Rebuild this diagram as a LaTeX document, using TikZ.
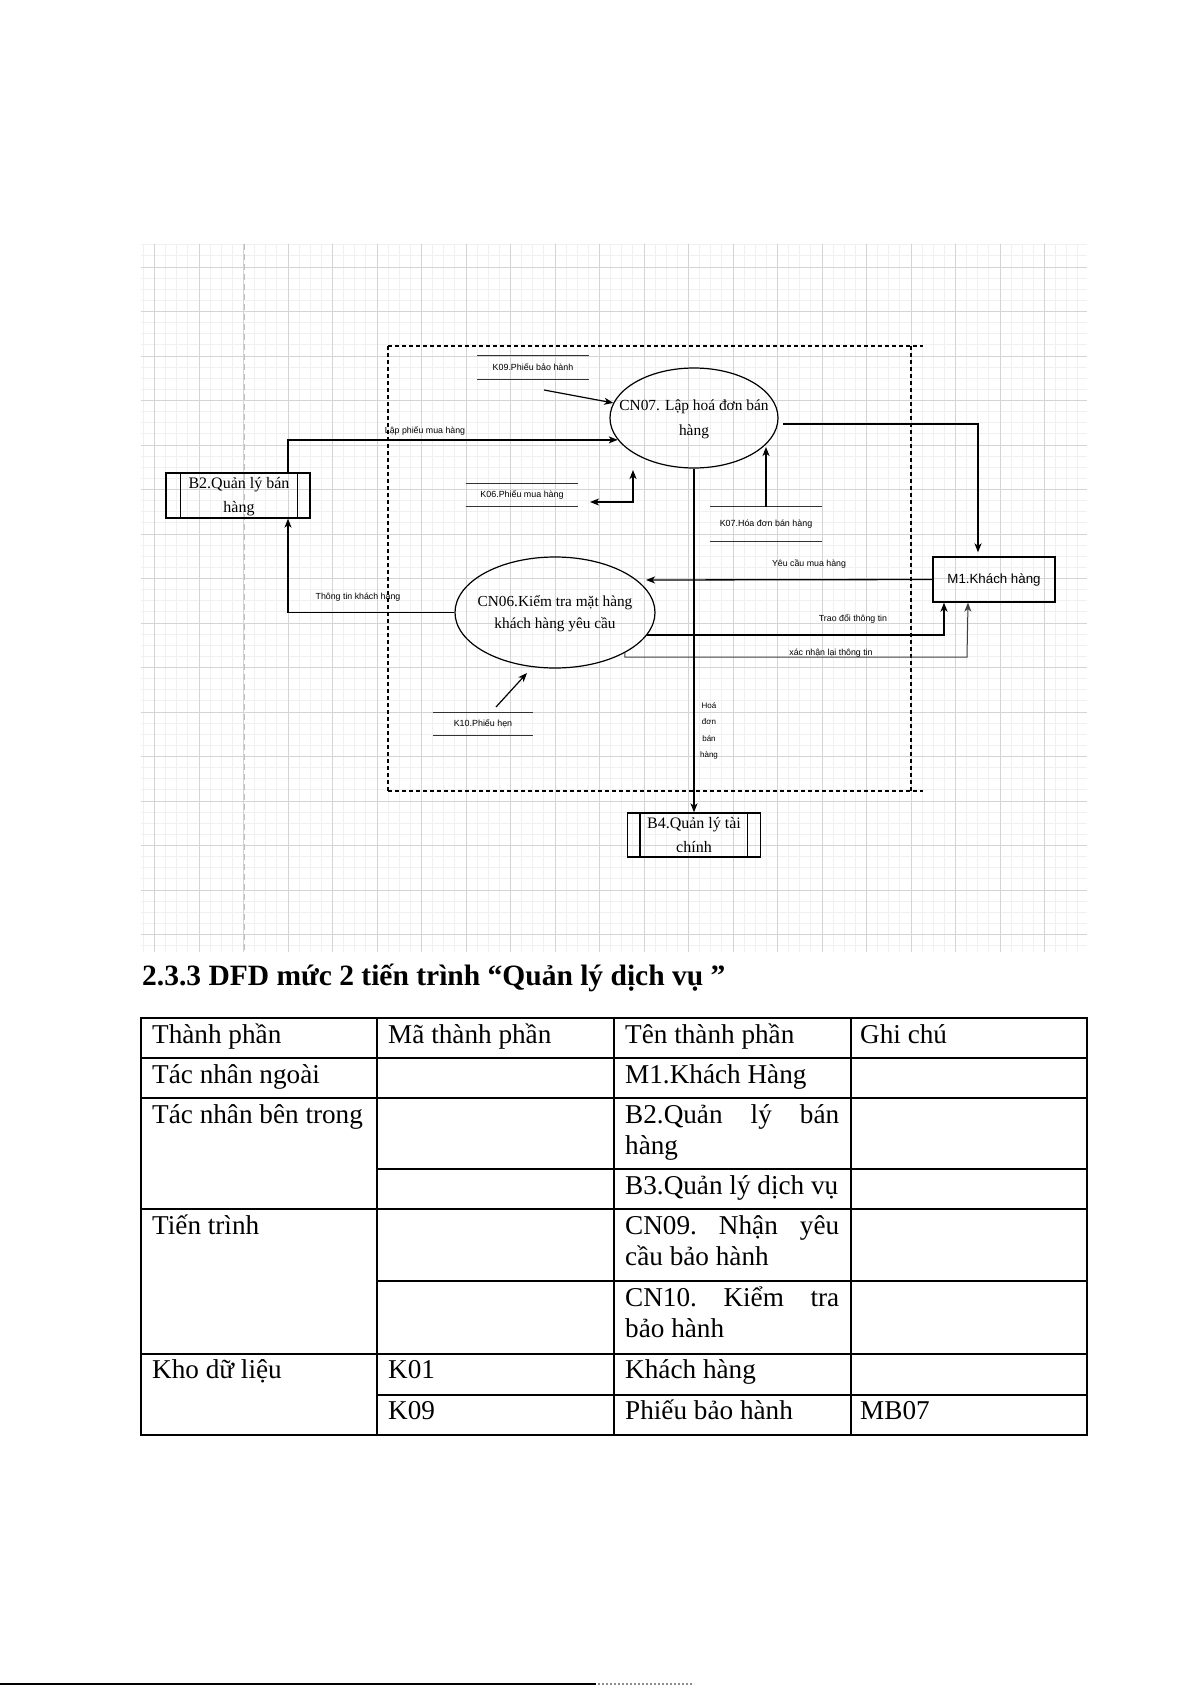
\documentclass[tikz,border=0pt]{standalone}
\usepackage{fontspec}
\setmainfont{Liberation Serif}
\newfontfamily\arialf{Liberation Sans}
\usetikzlibrary{arrows.meta,shapes.geometric,calc}
\begin{document}
\begin{tikzpicture}[x=1pt,y=-1pt,
  tip/.tip={Stealth[length=9pt,width=7pt,inset=2.5pt]},
  arr/.style={-tip, line width=1.3pt},
  darr/.style={tip-tip, line width=1.3pt},
  lbl/.style={font=\arialf\fontsize{8.8}{10}\selectfont, inner sep=0},
  sertext/.style={font=\fontsize{15.4}{25}\selectfont, align=center, inner sep=0},
  proc/.style={ellipse, draw, line width=1.2pt, inner sep=0},
  ext/.style={rectangle, draw, line width=1.3pt, inner sep=0},
  storetxt/.style={font=\arialf\fontsize{8.9}{10}\selectfont, inner sep=0},
  storeline/.style={draw=black!80, line width=1.2pt},
  gridminor/.style={draw=black!6, line width=0.8pt},
  gridmajor/.style={draw=black!17, line width=0.9pt},
  bound/.style={line width=1.5pt, dash pattern=on 4pt off 3pt},
  tab/.style={line width=1.2pt},
  tt/.style={font=\fontsize{27.2}{31}\selectfont, anchor=base west, inner sep=0},
]
\useasboundingbox (0,0) rectangle (1191,1685);
\fill[white] (0,0) rectangle (1191,1685);

% grid
\foreach \i in {-5,...,79}{\pgfmathsetmacro\xx{199+\i*11.125}\draw[gridminor] (\xx,244) -- (\xx,952);}
\foreach \j in {-2,...,61}{\pgfmathsetmacro\yy{267+\j*11.125}\draw[gridminor] (141,\yy) -- (1087,\yy);}
\foreach \i in {-1,...,19}{\pgfmathsetmacro\xx{199+\i*44.5}\draw[gridmajor] (\xx,244) -- (\xx,952);}
\foreach \j in {0,...,15}{\pgfmathsetmacro\yy{267+\j*44.5}\draw[gridmajor] (141,\yy) -- (1087,\yy);}
\draw[black!25, line width=1pt, dash pattern=on 6pt off 4pt] (244,244) -- (244,952);

% boundary
\draw[bound] (388,346) -- (923,346);
\draw[bound] (388,791) -- (923,791);
\draw[bound] (388,346) -- (388,791);
\draw[bound] (911,346) -- (911,791);

% external / internal agents
\node[ext, minimum width=144pt, minimum height=45pt] (b2) at (238,495.5) {};
\draw[line width=1.3pt] ([xshift=15pt]b2.north west) -- ([xshift=15pt]b2.south west)
  ([xshift=-13pt]b2.north east) -- ([xshift=-13pt]b2.south east);
\node[sertext, font=\fontsize{16}{24}\selectfont] (b2t) at (239,497) {B2.Quản lý bán\\hàng};

\node[ext, minimum width=133pt, minimum height=44pt] (b4) at (694,835) {};
\draw[line width=1.3pt] ([xshift=13pt]b4.north west) -- ([xshift=13pt]b4.south west)
  ([xshift=-14pt]b4.north east) -- ([xshift=-14pt]b4.south east);
\node[sertext, font=\fontsize{16}{24}\selectfont] (b4t) at (694,835.5) {B4.Quản lý tài\\chính};

\node[ext, minimum width=122pt, minimum height=45pt, font=\arialf\fontsize{13.3}{16}\selectfont] (m1) at (994,579.5) {M1.Khách hàng};

% processes
\node[proc, minimum width=168pt, minimum height=100pt] (cn07) at (694,418) {};
\node[sertext] (cn07t) at (694,419) {CN07. Lập hoá đơn bán\\hàng};
\node[proc, minimum width=200pt, minimum height=111pt] (cn06) at (555,612.5) {};
\node[sertext, font=\fontsize{15.3}{22}\selectfont] (cn06t) at (555,614) {CN06.Kiểm tra mặt hàng\\khách hàng yêu cầu};

% data stores
\node[storetxt, minimum width=112pt, minimum height=23pt] (k09) at (533,367.5) {K09.Phiếu bảo hành};
\draw[storeline] (k09.north west) -- (k09.north east) (k09.south west) -- (k09.south east);
\node[storetxt, minimum width=112pt, minimum height=22pt] (k06) at (522,495) {K06.Phiếu mua hàng};
\draw[storeline] (k06.north west) -- (k06.north east) (k06.south west) -- (k06.south east);
\node[storetxt, minimum width=112pt, minimum height=34pt] (k07) at (766,524) {K07.Hóa đơn bán hàng};
\draw[storeline] (k07.north west) -- (k07.north east) (k07.south west) -- (k07.south east);
\node[storetxt, minimum width=100pt, minimum height=22pt] (k10) at (483,724) {K10.Phiếu hẹn};
\draw[storeline] (k10.north west) -- (k10.north east) (k10.south west) -- (k10.south east);

% connectors
\draw[arr] ([xshift=50pt]b2.north) |- (cn07.196);
\node[lbl] (l1) at (425,431) {Lập phiếu mua hàng};

\coordinate (k09src) at (544,390);
\draw[arr, line width=1.2pt] (k09src) -- (cn07);

\coordinate (c7tip) at (633,470);
\coordinate (k06tip) at (590,502);
\draw[darr] (c7tip) |- (k06tip);

\coordinate (c7r) at (783,424);
\draw[arr, shorten >=4pt] (c7r) -| ([xshift=-16pt]m1.north);

\coordinate (k07tip) at (766,447);
\draw[arr] (k07.north) -- (k07tip);

\coordinate (c6in) at (646,580);
\draw[arr] (m1.west) -- (c6in);
\node[lbl] (l2) at (809,564) {Yêu cầu mua hàng};

\draw[arr] (cn06.west) -| ([xshift=50pt]b2.south);
\node[lbl] (l3) at (358,597) {Thông tin khách hàng};

\draw[arr, line width=1.9pt] (cn06.-14) -| ([xshift=-50pt]m1.south);
\node[lbl] (l4) at (853,619) {Trao đổi thông tin};

\coordinate (xc) at (967,657);
\draw[arr, line width=1pt, draw=black!75] (cn06.-30) |- (xc) -- ([xshift=-26pt]m1.south);
\node[lbl] (l5) at (831,653) {xác nhận lại thông tin};

\draw[arr] (cn07.south) -- (b4.north);
\node[lbl, align=center, font=\arialf\fontsize{8}{16.3}\selectfont] (l6) at (709,731) {Hoá\\đơn\\bán\\hàng};

\coordinate (k10src) at (496,707);
\coordinate (c6tip) at (527,673);
\draw[arr, line width=1.2pt] (k10src) -- (c6tip);

% heading
\node[anchor=base west, inner sep=0, font=\bfseries\fontsize{29.5}{34}\selectfont] (hd) at (142,985) {2.3.3 DFD mức 2 tiến trình “Quản lý dịch vụ ”};

% table
\draw[tab] (141,1018) rectangle (1087,1435);
\draw[tab] (377,1018) -- (377,1435) (614,1018) -- (614,1435) (851,1018) -- (851,1435);
\draw[tab] (141,1058) -- (1087,1058) (141,1098) -- (1087,1098) (377,1169) -- (1087,1169)
  (141,1209) -- (1087,1209) (377,1281) -- (1087,1281) (141,1354) -- (1087,1354) (377,1395) -- (1087,1395);

\node[tt] (t00) at (152,1043) {Thành phần};
\node[tt] (t01) at (388,1043) {Mã thành phần};
\node[tt] (t02) at (625,1043) {Tên thành phần};
\node[tt] (t03) at (860,1043) {Ghi chú};
\node[tt] (t10) at (152,1083) {Tác nhân ngoài};
\node[tt] (t12) at (625,1083) {M1.Khách Hàng};
\node[tt] (t20) at (152,1123) {Tác nhân bên trong};
\node[tt] (t22) at (625,1123) {\hbox to 214pt{B2.Quản\hfill lý\hfill bán}};
\node[tt] (t22b) at (625,1154) {hàng};
\node[tt] (t32) at (625,1194) {B3.Quản lý dịch vụ};
\node[tt] (t40) at (152,1234) {Tiến trình};
\node[tt] (t42) at (625,1234) {\hbox to 214pt{CN09.\hfill Nhận\hfill yêu}};
\node[tt] (t42b) at (625,1265) {cầu bảo hành};
\node[tt] (t52) at (625,1306) {\hbox to 214pt{CN10.\hfill Kiểm\hfill tra}};
\node[tt] (t52b) at (625,1337) {bảo hành};
\node[tt] (t60) at (152,1378) {Kho dữ liệu};
\node[tt] (t61) at (388,1378) {K01};
\node[tt] (t62) at (625,1378) {Khách hàng};
\node[tt] (t71) at (388,1419) {K09};
\node[tt] (t72) at (625,1419) {Phiếu bảo hành};
\node[tt] (t73) at (860,1419) {MB07};

% page bottom rule
\draw[line width=2pt] (0,1684) -- (596,1684);
\draw[line width=1.5pt, black!45, dash pattern=on 2pt off 2pt] (598,1684) -- (694,1684);
\end{tikzpicture}
\end{document}
